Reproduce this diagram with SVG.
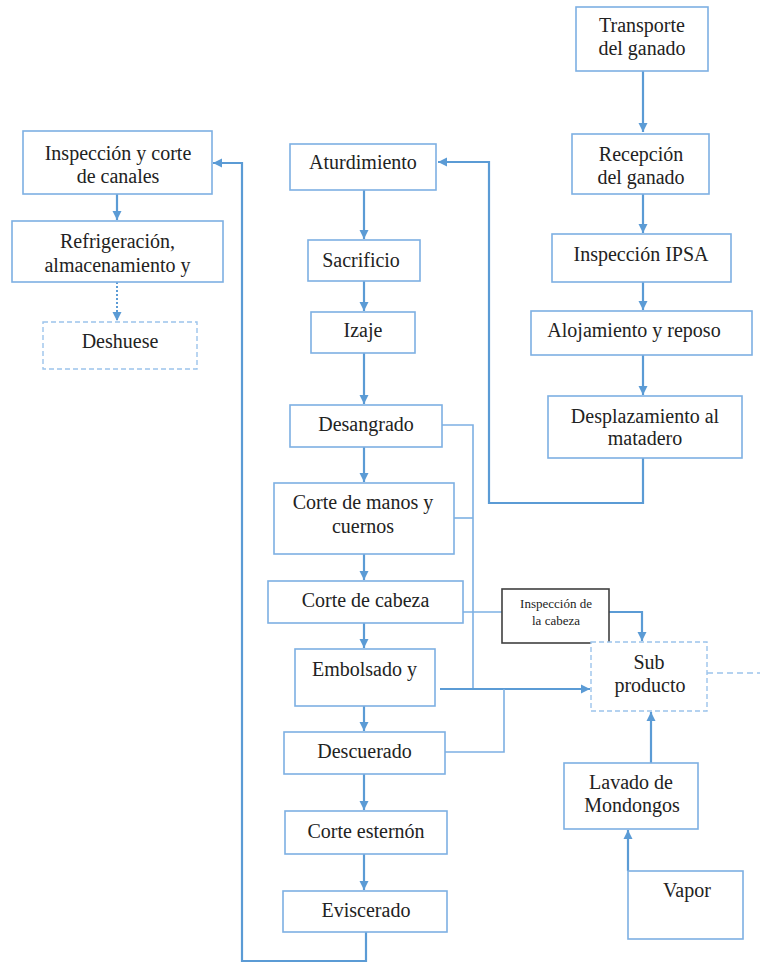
<svg xmlns="http://www.w3.org/2000/svg" width="760" height="964" viewBox="0 0 760 964">
<style>
.box{fill:#fff;stroke:#7DB0E3;stroke-width:1.6}
.dbox{fill:#fff;stroke:#9CC4EC;stroke-width:1.4;stroke-dasharray:5 3}
.kbox{fill:#fff;stroke:#404040;stroke-width:1.6}
.t{font-family:'Liberation Serif','DejaVu Serif',serif;font-size:20px;fill:#222;text-anchor:middle}
.s{font-family:'Liberation Serif','DejaVu Serif',serif;font-size:13px;fill:#222;text-anchor:middle}
.c{fill:none;stroke:#5B9BD5;stroke-width:2.2}
.cl{fill:none;stroke:#7DB0E3;stroke-width:1.6}
.cd{fill:none;stroke:#5B9BD5;stroke-width:2;stroke-dasharray:2 2}
.cdash{fill:none;stroke:#9CC4EC;stroke-width:1.6;stroke-dasharray:6 4}
</style>
<defs>
<marker id="ah" markerUnits="userSpaceOnUse" markerWidth="10" markerHeight="10" refX="9" refY="5" orient="auto">
<path d="M0,0.5 L9,5 L0,9.5 z" fill="#5B9BD5"/>
</marker>
</defs>
<rect width="760" height="964" fill="#fff"/>
<g id="connectors">
<path class="c" d="M643,71 V132" marker-end="url(#ah)"/>
<path class="c" d="M643,194 V233" marker-end="url(#ah)"/>
<path class="c" d="M643,282 V310" marker-end="url(#ah)"/>
<path class="c" d="M643,355 V395" marker-end="url(#ah)"/>
<path class="c" d="M643,458 V503 H489 V162 H438" marker-end="url(#ah)"/>
<path class="c" d="M364,190 V239" marker-end="url(#ah)"/>
<path class="c" d="M364,281 V311" marker-end="url(#ah)"/>
<path class="c" d="M364,353 V404" marker-end="url(#ah)"/>
<path class="c" d="M364,447 V482" marker-end="url(#ah)"/>
<path class="c" d="M364,554 V580" marker-end="url(#ah)"/>
<path class="c" d="M364,623 V648" marker-end="url(#ah)"/>
<path class="c" d="M364,706 V731" marker-end="url(#ah)"/>
<path class="c" d="M364,774 V810" marker-end="url(#ah)"/>
<path class="c" d="M364,854 V890" marker-end="url(#ah)"/>
<path class="c" d="M366,932 V961 H242 V163 H213" marker-end="url(#ah)"/>
<path class="c" d="M117,194 V220" marker-end="url(#ah)"/>
<path class="cd" d="M117,282 V321" marker-end="url(#ah)"/>
<path class="cl" d="M442,425 H473 V689"/>
<path class="cl" d="M454,518 H473"/>
<path class="c" d="M440,689 H590" marker-end="url(#ah)"/>
<path class="cl" d="M445,752 H504 V689"/>
<path class="cl" d="M463,612 H503"/>
<path class="c" d="M609,612 H642 V641" marker-end="url(#ah)"/>
<path class="cdash" d="M707,673 H760"/>
<path class="c" d="M651,763 V712" marker-end="url(#ah)"/>
<path class="c" d="M628,871 V830" marker-end="url(#ah)"/>
<path class="cl" d="M628,890 H651"/>
</g>
<g id="transporte"><rect class="box" x="576" y="7" width="132" height="64"/><text class="t" x="642" y="32">Transporte</text><text class="t" x="642" y="55">del ganado</text></g>
<g id="recepcion"><rect class="box" x="572" y="134" width="137" height="60"/><text class="t" x="641" y="161">Recepción</text><text class="t" x="641" y="184">del ganado</text></g>
<g id="ipsa"><rect class="box" x="552" y="234" width="179" height="48"/><text class="t" x="641" y="261">Inspección IPSA</text></g>
<g id="alojamiento"><rect class="box" x="531" y="311" width="221" height="44"/><text class="t" x="634" y="337">Alojamiento y reposo</text></g>
<g id="desplazamiento"><rect class="box" x="548" y="396" width="194" height="62"/><text class="t" x="645" y="423">Desplazamiento al</text><text class="t" x="645" y="445">matadero</text></g>
<g id="inspeccion-canales"><rect class="box" x="23" y="131" width="189" height="63"/><text class="t" x="118" y="160">Inspección y corte</text><text class="t" x="118" y="183">de canales</text></g>
<g id="refrigeracion"><rect class="box" x="12" y="221" width="211" height="61"/><text class="t" x="117.5" y="248">Refrigeración,</text><text class="t" x="117.5" y="272">almacenamiento y</text></g>
<g id="deshuese"><rect class="dbox" x="43" y="322" width="154" height="47"/><text class="t" x="120" y="348">Deshuese</text></g>
<g id="aturdimiento"><rect class="box" x="290" y="144" width="146" height="46"/><text class="t" x="363" y="169">Aturdimiento</text></g>
<g id="sacrificio"><rect class="box" x="308" y="240" width="112" height="41"/><text class="t" x="361" y="267">Sacrificio</text></g>
<g id="izaje"><rect class="box" x="311" y="312" width="104" height="41"/><text class="t" x="363" y="337">Izaje</text></g>
<g id="desangrado"><rect class="box" x="290" y="405" width="152" height="42"/><text class="t" x="366" y="431">Desangrado</text></g>
<g id="corte-manos"><rect class="box" x="274" y="483" width="180" height="71"/><text class="t" x="363" y="509">Corte de manos y</text><text class="t" x="363" y="533">cuernos</text></g>
<g id="corte-cabeza"><rect class="box" x="268" y="581" width="195" height="42"/><text class="t" x="365.5" y="607">Corte de cabeza</text></g>
<g id="embolsado"><rect class="box" x="295" y="649" width="140" height="57"/><text class="t" x="364.5" y="676">Embolsado y</text></g>
<g id="descuerado"><rect class="box" x="284" y="732" width="161" height="42"/><text class="t" x="364.5" y="758">Descuerado</text></g>
<g id="corte-esternon"><rect class="box" x="285" y="811" width="162" height="43"/><text class="t" x="366" y="838">Corte esternón</text></g>
<g id="eviscerado"><rect class="box" x="283" y="891" width="164" height="41"/><text class="t" x="366" y="917">Eviscerado</text></g>
<g id="inspeccion-cabeza"><rect class="kbox" x="502" y="589" width="107" height="54"/><text class="s" x="556" y="608">Inspección de</text><text class="s" x="556" y="625">la cabeza</text></g>
<g id="subproducto"><rect class="dbox" x="591" y="642" width="116" height="69"/><text class="t" x="649" y="669">Sub</text><text class="t" x="650" y="692">producto</text></g>
<g id="lavado"><rect class="box" x="564" y="763" width="134" height="66"/><text class="t" x="631" y="789">Lavado de</text><text class="t" x="632" y="812">Mondongos</text></g>
<g id="vapor"><rect class="box" x="628" y="871" width="115" height="68"/><text class="t" x="687" y="897">Vapor</text></g>
</svg>
